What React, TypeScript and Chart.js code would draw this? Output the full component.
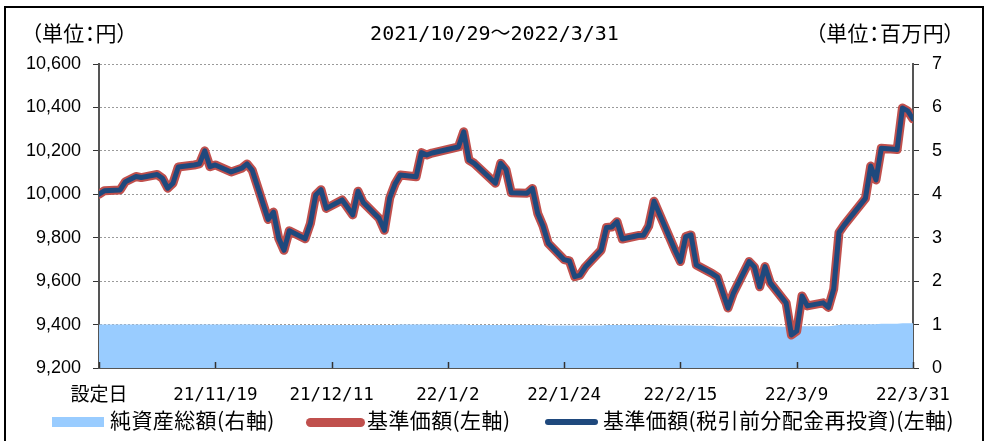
import React, { useEffect, useRef } from 'react';
import { Chart, registerables } from 'chart.js';

Chart.register(...registerables);

// ---- data ----
const axisStartDate = '2021-10-28';
const axisEndDate = '2022-03-31';
const xTickEveryDays = 22;
const xTickLabels = ['設定日', '21/11/19', '21/12/11', '22/1/2', '22/1/24', '22/2/15', '22/3/9', '22/3/31'];

const dates = [
  '2021-10-28', '2021-10-29', '2021-11-01', '2021-11-02', '2021-11-04', '2021-11-05',
  '2021-11-08', '2021-11-09', '2021-11-10', '2021-11-11', '2021-11-12',
  '2021-11-15', '2021-11-16', '2021-11-17', '2021-11-18', '2021-11-19',
  '2021-11-22', '2021-11-24', '2021-11-25', '2021-11-26',
  '2021-11-29', '2021-11-30', '2021-12-01', '2021-12-02', '2021-12-03',
  '2021-12-06', '2021-12-07', '2021-12-08', '2021-12-09', '2021-12-10',
  '2021-12-13', '2021-12-14', '2021-12-15', '2021-12-16', '2021-12-17',
  '2021-12-20', '2021-12-21', '2021-12-22', '2021-12-23', '2021-12-24',
  '2021-12-27', '2021-12-28', '2021-12-29', '2021-12-30',
  '2022-01-04', '2022-01-05', '2022-01-06', '2022-01-07',
  '2022-01-11', '2022-01-12', '2022-01-13', '2022-01-14',
  '2022-01-17', '2022-01-18', '2022-01-19', '2022-01-20', '2022-01-21',
  '2022-01-24', '2022-01-25', '2022-01-26', '2022-01-27', '2022-01-28',
  '2022-01-31', '2022-02-01', '2022-02-02', '2022-02-03', '2022-02-04',
  '2022-02-07', '2022-02-08', '2022-02-09', '2022-02-10',
  '2022-02-14', '2022-02-15', '2022-02-16', '2022-02-17', '2022-02-18',
  '2022-02-21', '2022-02-22', '2022-02-24', '2022-02-25',
  '2022-02-28', '2022-03-01', '2022-03-02', '2022-03-03', '2022-03-04',
  '2022-03-07', '2022-03-08', '2022-03-09', '2022-03-10', '2022-03-11',
  '2022-03-14', '2022-03-15', '2022-03-16', '2022-03-17', '2022-03-18',
  '2022-03-22', '2022-03-23', '2022-03-24', '2022-03-25',
  '2022-03-28', '2022-03-29', '2022-03-30', '2022-03-31',
];

// 基準価額 (円)
const navValues = [
  10000, 10016, 10020, 10058, 10082, 10077,
  10091, 10074, 10028, 10051, 10126,
  10135, 10140, 10200, 10127, 10135,
  10103, 10120, 10140, 10110,
  9884, 9918, 9797, 9742, 9832,
  9795, 9866, 9997, 10021, 9935,
  9974, 9940, 9905, 10014, 9962,
  9889, 9834, 9983, 10047, 10089,
  10081, 10192, 10181, 10190,
  10218, 10288, 10157, 10142,
  10051, 10143, 10114, 10007,
  10005, 10027, 9912, 9854, 9774,
  9699, 9693, 9621, 9628, 9665,
  9743, 9847, 9849, 9874, 9794,
  9810, 9811, 9854, 9968,
  9741, 9690, 9805, 9813, 9674,
  9635, 9619, 9476, 9544,
  9690, 9665, 9574, 9667, 9592,
  9499, 9352, 9370, 9532, 9486,
  9500, 9479, 9564, 9824, 9859,
  9981, 10130, 10066, 10212,
  10206, 10397, 10384, 10347,
];

// 基準価額(税引前分配金再投資) (円) — no distributions in the period
const navReinvestedValues = [...navValues];

// 純資産総額 (百万円)
const netAssetValues = [
  1.0, 1.0, 1.0, 1.0, 1.0, 1.0,
  1.0, 1.0, 1.0, 1.0, 1.0,
  1.0, 1.0, 1.0, 1.0, 1.0,
  1.0, 1.0, 1.0, 1.0,
  0.99, 0.99, 0.99, 0.99, 0.99,
  0.99, 0.99, 0.99, 0.99, 0.99,
  0.99, 0.99, 0.99, 0.99, 0.99,
  0.99, 0.99, 0.99, 0.99, 1.0,
  1.0, 1.0, 1.0, 1.0,
  1.0, 1.0, 0.99, 0.99,
  0.99, 0.99, 0.99, 0.99,
  0.99, 0.99, 0.99, 0.99, 0.98,
  0.98, 0.98, 0.98, 0.98, 0.98,
  0.98, 0.99, 0.99, 0.99, 0.99,
  0.99, 0.99, 0.99, 0.99,
  0.98, 0.98, 0.98, 0.98, 0.97,
  0.97, 0.96, 0.96, 0.96,
  0.96, 0.96, 0.96, 0.96, 0.96,
  0.95, 0.95, 0.95, 0.96, 0.96,
  0.96, 0.96, 0.97, 0.99, 1.0,
  1.0, 1.01, 1.01, 1.02,
  1.02, 1.03, 1.03, 1.03,
];

const leftTicks = { min: 9200, max: 10600, step: 200 };
const rightTicks = { min: 0, max: 7, step: 1 };

const titleText = '2021/10/29～2022/3/31';
const leftUnit = '（単位：円）';
const rightUnit = '（単位：百万円）';
const legendNames = ['純資産総額(右軸)', '基準価額(左軸)', '基準価額(税引前分配金再投資)(左軸)'];

// ---- helpers ----
const DAY = 86400000;
const dayOf = (d: string) => Math.round((Date.parse(d) - Date.parse(axisStartDate)) / DAY);
const spanDays = dayOf(axisEndDate);

const COLORS = {
  area: '#99CCFF',
  nav: '#C0504D',
  navRe: '#1F497D',
  axis: '#555555',
  grid: '#9a9a9a',
};

const CJK = '"Noto Sans CJK JP", "Noto Sans", sans-serif';
const MONO = '"DejaVu Sans Mono", "Noto Sans CJK JP", monospace';
const SANS = '"Liberation Sans", Arial, sans-serif';

const xInwardTicks = {
  id: 'xInwardTicks',
  afterDatasetsDraw(chart: any) {
    const s = chart.scales.x;
    const ctx = chart.ctx;
    const b = chart.chartArea.bottom;
    ctx.save();
    ctx.strokeStyle = '#333';
    ctx.lineWidth = 1.5;
    s.ticks.forEach((t: any) => {
      const px = Math.round(s.getPixelForValue(t.value)) + 0.5;
      ctx.beginPath();
      ctx.moveTo(px, b);
      ctx.lineTo(px, b - 6);
      ctx.stroke();
    });
    ctx.restore();
  },
};

export default function App() {
  const ref = useRef<HTMLCanvasElement | null>(null);

  useEffect(() => {
    if (!ref.current) return;
    const pts = (vals: number[]) => dates.map((d, i) => ({ x: dayOf(d), y: vals[i] }));
    const chart = new Chart(ref.current, {
      type: 'line',
      data: {
        datasets: [
          {
            label: legendNames[2],
            data: pts(navReinvestedValues),
            yAxisID: 'y',
            borderColor: COLORS.navRe,
            borderWidth: 5,
            pointRadius: 0,
            borderJoinStyle: 'round',
            borderCapStyle: 'round',
            tension: 0,
            fill: false,
            order: 0,
          },
          {
            label: legendNames[1],
            data: pts(navValues),
            yAxisID: 'y',
            borderColor: COLORS.nav,
            borderWidth: 9,
            pointRadius: 0,
            borderJoinStyle: 'round',
            borderCapStyle: 'round',
            tension: 0,
            fill: false,
            order: 1,
          },
          {
            label: legendNames[0],
            data: pts(netAssetValues),
            yAxisID: 'y1',
            borderWidth: 0,
            borderColor: COLORS.area,
            backgroundColor: COLORS.area,
            pointRadius: 0,
            fill: 'origin',
            tension: 0,
            order: 2,
          },
        ],
      } as any,
      options: {
        responsive: false,
        animation: false,
        events: [],
        layout: { padding: { top: 64, left: 0, right: 0, bottom: 0 } },
        plugins: { legend: { display: false }, tooltip: { enabled: false }, title: { display: false } },
        scales: {
          x: {
            type: 'linear',
            min: 0,
            max: spanDays,
            afterFit: (s: any) => { s.height = 73; },
            grid: { display: false },
            border: { display: true, color: COLORS.axis, width: 2 },
            ticks: {
              stepSize: xTickEveryDays,
              autoSkip: false,
              maxRotation: 0,
              minRotation: 0,
              color: '#000',
              padding: 9,
              font: (c: any) =>
                c.index === 0 ? { family: CJK, size: 19, lineHeight: 0.95 } : { family: MONO, size: 17.5 },
              callback: (v: any) => xTickLabels[Math.round(Number(v) / xTickEveryDays)] ?? '',
            },
          },
          y: {
            position: 'left',
            min: leftTicks.min,
            max: leftTicks.max,
            afterFit: (s: any) => { s.width = 99; },
            grid: { color: COLORS.grid, lineWidth: 1, tickColor: '#333', tickLength: 6, drawOnChartArea: true },
            border: { display: true, color: COLORS.axis, width: 2, dash: [2, 2] },
            ticks: {
              stepSize: leftTicks.step,
              color: '#000',
              padding: 12,
              font: { family: SANS, size: 18 },
              callback: (v: any) => Number(v).toLocaleString('en-US'),
            },
          },
          y1: {
            position: 'right',
            min: rightTicks.min,
            max: rightTicks.max,
            afterFit: (s: any) => { s.width = 76; },
            grid: { drawOnChartArea: false, tickColor: '#333', tickLength: 6 },
            border: { display: true, color: COLORS.axis, width: 2 },
            ticks: {
              stepSize: rightTicks.step,
              color: '#000',
              padding: 13,
              font: { family: SANS, size: 18 },
            },
          },
        },
      } as any,
      plugins: [xInwardTicks],
    });
    return () => chart.destroy();
  }, []);

  const abs = (s: React.CSSProperties): React.CSSProperties => ({ position: 'absolute', ...s });
  const cjkText: React.CSSProperties = {
    fontFamily: CJK,
    fontSize: 21,
    lineHeight: '21px',
    color: '#000',
    whiteSpace: 'nowrap',
    fontFeatureSettings: '"palt"',
    letterSpacing: '0.4px',
  };

  return (
    <div style={{ position: 'fixed', left: 0, top: 0, width: 989, height: 441, overflow: 'hidden', background: '#fff' }}>
      <canvas ref={ref} width={989} height={441} style={abs({ left: 0, top: 0, width: 989, height: 441 })} />
      <div style={abs({ left: 4, top: 6, width: 980, height: 500, border: '2px solid #000', boxSizing: 'border-box' })} />
      <div style={abs({ left: 0, top: 23, width: 989, textAlign: 'center', fontFamily: MONO, fontSize: 20, lineHeight: '20px', whiteSpace: 'nowrap' })}>
        {titleText}
      </div>
      <div style={abs({ ...cjkText, left: 31, top: 22 })}>{leftUnit}</div>
      <div style={abs({ ...cjkText, right: 34, top: 22 })}>{rightUnit}</div>

      <div style={abs({ left: 52, top: 417, width: 52, height: 10, background: COLORS.area })} />
      <div style={abs({ ...cjkText, left: 110, top: 409 })}>{legendNames[0]}</div>
      <div style={abs({ left: 306, top: 418, width: 59, height: 9, borderRadius: 4.5, background: COLORS.nav })} />
      <div style={abs({ ...cjkText, left: 367, top: 409 })}>{legendNames[1]}</div>
      <div style={abs({ left: 545, top: 419, width: 53, height: 6, borderRadius: 3, background: COLORS.navRe })} />
      <div style={abs({ ...cjkText, left: 603, top: 409 })}>{legendNames[2]}</div>
    </div>
  );
}
